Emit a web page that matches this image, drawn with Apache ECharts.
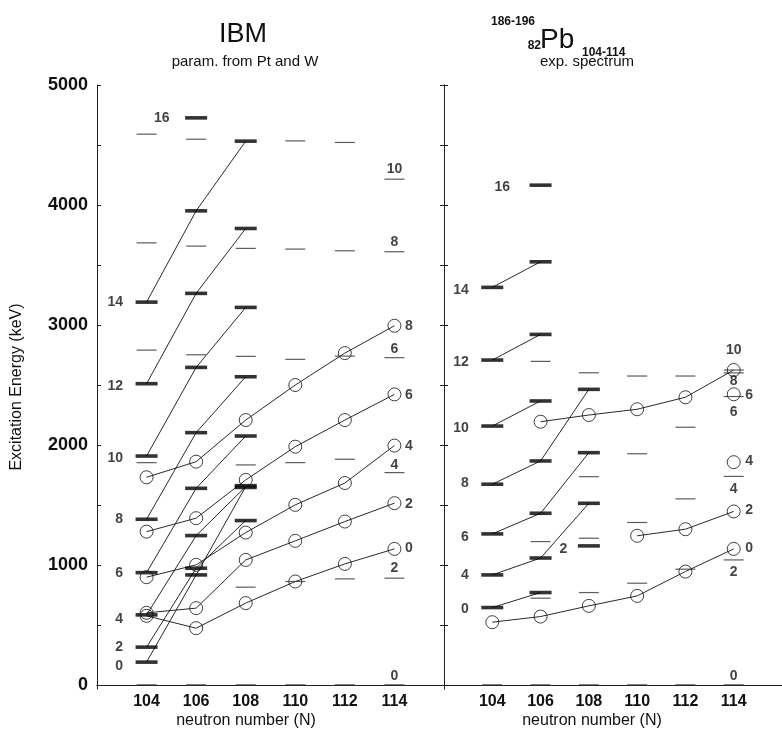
<!DOCTYPE html>
<html><head><meta charset="utf-8">
<script src="https://cdn.jsdelivr.net/npm/echarts@6/dist/echarts.min.js"></script>
<style>html,body{margin:0;padding:0;background:#fff}#c{width:782px;height:740px}</style>
</head><body><div id="c"></div>
<script>
// ---------- axes ----------
const nTicks = [104, 106, 108, 110, 112, 114];
const yTickLabels = [0, 1000, 2000, 3000, 4000, 5000];
const yTickMarks = [0, 500, 1000, 1500, 2000, 2500, 3000, 3500, 4000, 4500, 5000];

// ---------- IBM panel (param. from Pt and W) ----------
const ibmThick = [[104,189],[104,314],[104,583],[104,935],[104,1380],[104,1907],[104,2510],[104,3190],
  [106,916],[106,972],[106,1244],[106,1638],[106,2102],[106,2646],[106,3263],[106,3951],[106,4726],
  [108,1369],[108,1645],[108,1660],[108,2074],[108,2568],[108,3146],[108,3804],[108,4532]];
const ibmThin = [[104,0],[104,1852],[104,2790],[104,3684],[104,4590],
  [106,0],[106,2751],[106,3657],[106,4548],
  [108,0],[108,814],[108,1833],[108,2738],[108,3638],
  [110,0],[110,861],[110,1852],[110,2713],[110,3632],[110,4534],
  [112,0],[112,883],[112,1880],[112,2740],[112,3618],[112,4521],
  [114,0],[114,889],[114,1769],[114,2727],[114,3610],[114,4215]];
const ibmBand0  = [[104,189],[106,916],[108,1652]];
const ibmBand2  = [[104,314],[106,972],[108,1369]];
const ibmBand4  = [[104,583],[106,1244],[108,1652]];
const ibmBand6  = [[104,935],[106,1638],[108,2074]];
const ibmBand8  = [[104,1380],[106,2102],[108,2568]];
const ibmBand10 = [[104,1907],[106,2646],[108,3146]];
const ibmBand12 = [[104,2510],[106,3263],[108,3804]];
const ibmBand14 = [[104,3190],[106,3951],[108,4532]];
const ibmGs0 = [[104,575],[106,472],[108,681],[110,861],[112,1008],[114,1133]];
const ibmGs2 = [[104,600],[106,639],[108,1041],[110,1200],[112,1361],[114,1514]];
const ibmGs4 = [[104,897],[106,1000],[108,1269],[110,1500],[112,1682],[114,1994]];
const ibmGs6 = [[104,1277],[106,1389],[108,1708],[110,1985],[112,2207],[114,2421]];
const ibmGs8 = [[104,1730],[106,1860],[108,2207],[110,2499],[112,2765],[114,2993]];
// label texts: [N, E of text centre, text]
const ibmBandLabels = [[104,156,'0'],[104,317,'2'],[104,545,'4'],[104,933,'6'],[104,1377,'8'],[104,1891,'10'],[104,2493,'12'],[104,3187,'14']];
const ibmTopBandLabel = [[106,4725,'16']];
const ibmGsLabels = [[114,1136,'0'],[114,1510,'2'],[114,1988,'4'],[114,2418,'6'],[114,2987,'8']];
const ibmLevelLabels = [[114,72,'0'],[114,975,'2'],[114,1835,'4'],[114,2798,'6'],[114,3694,'8'],[114,4297,'10']];

// ---------- experimental panel ----------
const expThick = [[104,644],[104,916],[104,1258],[104,1672],[104,2157],[104,2707],[104,3313],
  [106,769],[106,1057],[106,1430],[106,1866],[106,2366],[106,2921],[106,3526],[106,4165],
  [108,1158],[108,1513],[108,1935],[108,2463]];
const expThin = [[104,0],[106,0],[106,722],[106,1194],[106,2696],
  [108,0],[108,769],[108,1222],[108,1735],[108,2601],
  [110,0],[110,847],[110,1353],[110,1926],[110,2574],
  [112,0],[112,964],[112,1550],[112,2147],[112,2574],
  [114,0],[114,1041],[114,1737],[114,2403],[114,2600],[114,2624]];
const expBand0  = [[104,644],[106,769]];
const expBand4  = [[104,916],[106,1057],[108,1513]];
const expBand6  = [[104,1258],[106,1430],[108,1935]];
const expBand8  = [[104,1672],[106,1866],[108,2463]];
const expBand10 = [[104,2157],[106,2366]];
const expBand12 = [[104,2707],[106,2921]];
const expBand14 = [[104,3313],[106,3526]];
const expGs0 = [[104,522],[106,569],[108,658],[110,741],[112,944],[114,1133]];
const expGs2 = [[110,1242],[112,1297],[114,1445]];
const expGs4 = [[114,1856]];
const expGs6 = [[114,2422]];
const expGsHigh = [[106,2193],[108,2249],[110,2297],[112,2397],[114,2624]];
const expBandLabels = [[104,634,'0'],[104,913,'4'],[104,1233,'6'],[104,1677,'8'],[104,2141,'10'],[104,2687,'12'],[104,3287,'14']];
const expTopBandLabel = [[106,4147,'16']];
const expSideLabel = [[108,1133,'2']];
const expGsLabels = [[114,1136,'0'],[114,1455,'2'],[114,1863,'4'],[114,2418,'6']];
const expLevelLabels = [[114,72,'0'],[114,938,'2'],[114,1627,'4'],[114,2271,'6'],[114,2529,'8'],[114,2787,'10']];

// ---------- build ----------
const FONT = '"Liberation Sans", Arial, Helvetica, sans-serif';
const ibmBands = [ibmBand0, ibmBand2, ibmBand4, ibmBand6, ibmBand8, ibmBand10, ibmBand12, ibmBand14];
const ibmGs = [ibmGs0, ibmGs2, ibmGs4, ibmGs6, ibmGs8];
const expBands = [expBand0, expBand4, expBand6, expBand8, expBand10, expBand12, expBand14];
const expGs = [expGs0, expGs2, expGs4, expGs6, expGsHigh];

function lineS(d, xi, yi) {
  return {type:'line', xAxisIndex:xi, yAxisIndex:yi, data:d, symbol:'none', silent:true, z:2,
    lineStyle:{color:'#111', width:0.9}, animation:false};
}
function barS(d, xi, yi, thick) {
  return {type:'scatter', xAxisIndex:xi, yAxisIndex:yi, data:d, symbol:'rect', silent:true, z:3,
    symbolSize: thick ? [22, 3.6] : [20, 1.2],
    itemStyle:{color: thick ? '#000' : '#333'}, animation:false};
}
function circS(d, xi, yi) {
  return {type:'scatter', xAxisIndex:xi, yAxisIndex:yi, data:d, symbol:'circle', symbolSize:13, silent:true, z:4,
    itemStyle:{color:'rgba(0,0,0,0)', borderColor:'#111', borderWidth:1}, animation:false};
}
function labS(d, xi, yi, pos, dist) {
  return {type:'scatter', xAxisIndex:xi, yAxisIndex:yi, data:d, symbol:'circle', symbolSize:1, silent:true, z:5,
    itemStyle:{color:'rgba(0,0,0,0)'}, animation:false,
    label:{show:true, position:pos, distance:dist, formatter:p=>p.value[2],
      color:'#111', fontFamily:FONT, fontWeight:'bold', fontSize:14}};
}

const series = [];
ibmBands.forEach(b => series.push(lineS(b, 0, 0)));
ibmGs.forEach(b => { if (b.length > 1) series.push(lineS(b, 0, 0)); series.push(circS(b, 0, 0)); });
series.push(barS(ibmThin, 0, 0, false));
series.push(barS(ibmThick, 0, 0, true));
series.push(labS(ibmBandLabels, 0, 0, 'left', 23));
series.push(labS(ibmTopBandLabel, 0, 0, 'left', 26));
series.push(labS(ibmGsLabels, 0, 0, 'right', 10));
series.push(labS(ibmLevelLabels, 0, 0, 'inside', 0));

expBands.forEach(b => series.push(lineS(b, 2, 2)));
expGs.forEach(b => { if (b.length > 1) series.push(lineS(b, 2, 2)); series.push(circS(b, 2, 2)); });
series.push(barS(expThin, 2, 2, false));
series.push(barS(expThick, 2, 2, true));
series.push(labS(expBandLabels, 2, 2, 'left', 23));
series.push(labS(expTopBandLabel, 2, 2, 'left', 30));
series.push(labS(expSideLabel, 2, 2, 'left', 21));
series.push(labS(expGsLabels, 2, 2, 'right', 11));
series.push(labS(expLevelLabels, 2, 2, 'inside', 0));

const axLine = {show:true, lineStyle:{color:'#222', width:1}};
const yBase = {type:'value', min:-35, max:5000, splitLine:{show:false}};
const xBase = {type:'value', min:102, max:116, splitLine:{show:false}};

const option = {
  backgroundColor:'#fff',
  animation:false,
  grid:[
    {left:97, top:85, width:347, height:604},
    {left:444, top:85, width:347, height:604}
  ],
  xAxis:[
    Object.assign({}, xBase, {gridIndex:0, position:'bottom', axisLine:axLine, axisTick:{show:false},
      axisLabel:{customValues:nTicks, margin:5, color:'#111', fontFamily:FONT, fontWeight:'bold', fontSize:16,
        formatter:v=>String(v)}}),
    Object.assign({}, xBase, {gridIndex:0, position:'top', axisLine:axLine, axisTick:{show:false}, axisLabel:{show:false}}),
    Object.assign({}, xBase, {gridIndex:1, position:'bottom', axisLine:axLine, axisTick:{show:false},
      axisLabel:{customValues:nTicks, margin:5, color:'#111', fontFamily:FONT, fontWeight:'bold', fontSize:16,
        formatter:v=>String(v)}})
  ],
  yAxis:[
    Object.assign({}, yBase, {gridIndex:0, position:'left', axisLine:axLine,
      axisTick:{show:true, inside:true, length:4, customValues:yTickMarks, lineStyle:{color:'#222'}},
      axisLabel:{customValues:yTickLabels, margin:9, color:'#111', fontFamily:FONT, fontWeight:'bold', fontSize:18,
        formatter:v=>String(v)},
      name:'Excitation Energy (keV)', nameLocation:'middle', nameGap:72,
      nameTextStyle:{color:'#111', fontFamily:FONT, fontSize:16}}),
    Object.assign({}, yBase, {gridIndex:0, position:'right', axisLine:axLine,
      axisTick:{show:true, inside:true, length:4, customValues:yTickMarks, lineStyle:{color:'#222'}},
      axisLabel:{show:false}}),
    Object.assign({}, yBase, {gridIndex:1, position:'left', axisLine:axLine,
      axisTick:{show:true, inside:true, length:4, customValues:yTickMarks, lineStyle:{color:'#222'}},
      axisLabel:{show:false}})
  ],
  graphic:[
    {type:'text', style:{text:'IBM', x:243, y:35, align:'center', verticalAlign:'middle',
      font:'27px '+FONT, fill:'#111'}},
    {type:'text', style:{text:'param. from Pt and W', x:245, y:62, align:'center', verticalAlign:'middle',
      font:'15px '+FONT, fill:'#111'}},
    {type:'text', style:{text:'186-196', x:513, y:22, align:'center', verticalAlign:'middle',
      font:'bold 12px '+FONT, fill:'#111'}},
    {type:'text', style:{text:'82', x:541, y:46, align:'right', verticalAlign:'middle',
      font:'bold 12px '+FONT, fill:'#111'}},
    {type:'text', style:{text:'Pb', x:540, y:40, align:'left', verticalAlign:'middle',
      font:'28px '+FONT, fill:'#111'}},
    {type:'text', style:{text:'104-114', x:582, y:53, align:'left', verticalAlign:'middle',
      font:'bold 12px '+FONT, fill:'#111'}},
    {type:'text', style:{text:'exp. spectrum', x:587, y:62, align:'center', verticalAlign:'middle',
      font:'15px '+FONT, fill:'#111'}},
    {type:'text', style:{text:'neutron number (N)', x:246, y:721, align:'center', verticalAlign:'middle',
      font:'16px '+FONT, fill:'#111'}},
    {type:'text', style:{text:'neutron number (N)', x:592, y:721, align:'center', verticalAlign:'middle',
      font:'16px '+FONT, fill:'#111'}}
  ],
  series: series
};
const chart = echarts.init(document.getElementById('c'), null, {renderer:'canvas'});
chart.setOption(option);
</script>
</body></html>
